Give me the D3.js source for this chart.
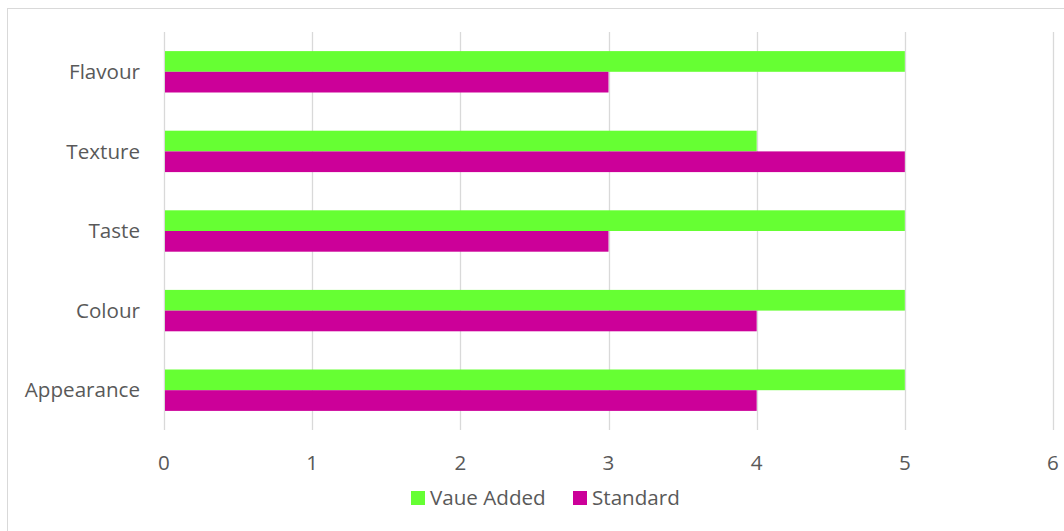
<!DOCTYPE html>
<html>
<head>
<meta charset="utf-8">
<script src="https://cdn.jsdelivr.net/npm/d3@7"></script>
<style>
  body { margin: 0; background: #fff; }
  svg { display: block; }
</style>
</head>
<body>
<svg id="chart" width="1064" height="531"></svg>
<script>
// data
const categories = ['Flavour', 'Texture', 'Taste', 'Colour', 'Appearance']
const seriesNames = ['Vaue Added', 'Standard']
const vaueAdded = [5, 4, 5, 5, 5]
const standard = [3, 5, 3, 4, 4]
const xTicks = [0, 1, 2, 3, 4, 5, 6]
const colors = ['#66ff33', '#cc0099']

const width = 1064
const height = 531
const margin = { top: 32, right: 11, bottom: 101, left: 164 }
const innerW = width - margin.left - margin.right
const innerH = height - margin.top - margin.bottom
const textColor = '#595959'
const fontFamily = '"Open Sans", "Noto Sans", sans-serif'
const fontSize = 20.6

const svg = d3.select('#chart')

// chart border (cut off at right and bottom like the original)
svg.append('rect')
  .attr('x', 7.5).attr('y', 8.5)
  .attr('width', width).attr('height', height)
  .attr('fill', 'none')
  .attr('stroke', '#d9d9d9')

const g = svg.append('g')
  .attr('transform', `translate(${margin.left},${margin.top})`)

const x = d3.scaleLinear().domain([0, 6]).range([0, innerW])
const y = d3.scaleBand().domain(categories).range([0, innerH]).paddingInner(0.48).paddingOuter(0.24)
const inner = d3.scaleBand().domain(seriesNames).range([0, y.bandwidth()])

// gridlines
g.append('g')
  .selectAll('line')
  .data(xTicks)
  .join('line')
  .attr('x1', (d) => Math.round(x(d)) + 0.5)
  .attr('x2', (d) => Math.round(x(d)) + 0.5)
  .attr('y1', 0)
  .attr('y2', innerH)
  .attr('stroke', '#d9d9d9')
  .attr('stroke-width', 1.3)

// bars
const rows = categories.map((c, i) => ({ cat: c, values: [vaueAdded[i], standard[i]] }))
g.append('g')
  .selectAll('g')
  .data(rows)
  .join('g')
  .attr('transform', (d) => `translate(0,${y(d.cat)})`)
  .selectAll('rect')
  .data((d) => d.values.map((v, j) => ({ name: seriesNames[j], value: v, j })))
  .join('rect')
  .attr('x', x(0) + 1)
  .attr('y', (d) => inner(d.name))
  .attr('width', (d) => x(d.value) - x(0) - 1)
  .attr('height', inner.bandwidth())
  .attr('fill', (d) => colors[d.j])

// x axis labels
g.append('g')
  .selectAll('text')
  .data(xTicks)
  .join('text')
  .attr('x', (d) => x(d))
  .attr('y', innerH + 40)
  .attr('text-anchor', 'middle')
  .attr('font-family', fontFamily)
  .attr('font-size', fontSize)
  .attr('fill', textColor)
  .text((d) => d)

// y axis labels
g.append('g')
  .selectAll('text')
  .data(categories)
  .join('text')
  .attr('x', -24)
  .attr('y', (d) => y(d) + y.bandwidth() / 2)
  .attr('dy', '0.35em')
  .attr('text-anchor', 'end')
  .attr('font-family', fontFamily)
  .attr('font-size', fontSize)
  .attr('fill', textColor)
  .text((d) => d)

// legend
const legendX = [411, 573]
const legend = svg.append('g').attr('id', 'legend')
seriesNames.forEach((name, i) => {
  legend.append('rect')
    .attr('x', legendX[i]).attr('y', 491)
    .attr('width', 14).attr('height', 14)
    .attr('fill', colors[i])
  legend.append('text')
    .attr('x', legendX[i] + 19).attr('y', 498)
    .attr('dy', '0.35em')
    .attr('font-family', fontFamily)
    .attr('font-size', fontSize)
    .attr('fill', textColor)
    .text(name)
})
</script>
</body>
</html>
